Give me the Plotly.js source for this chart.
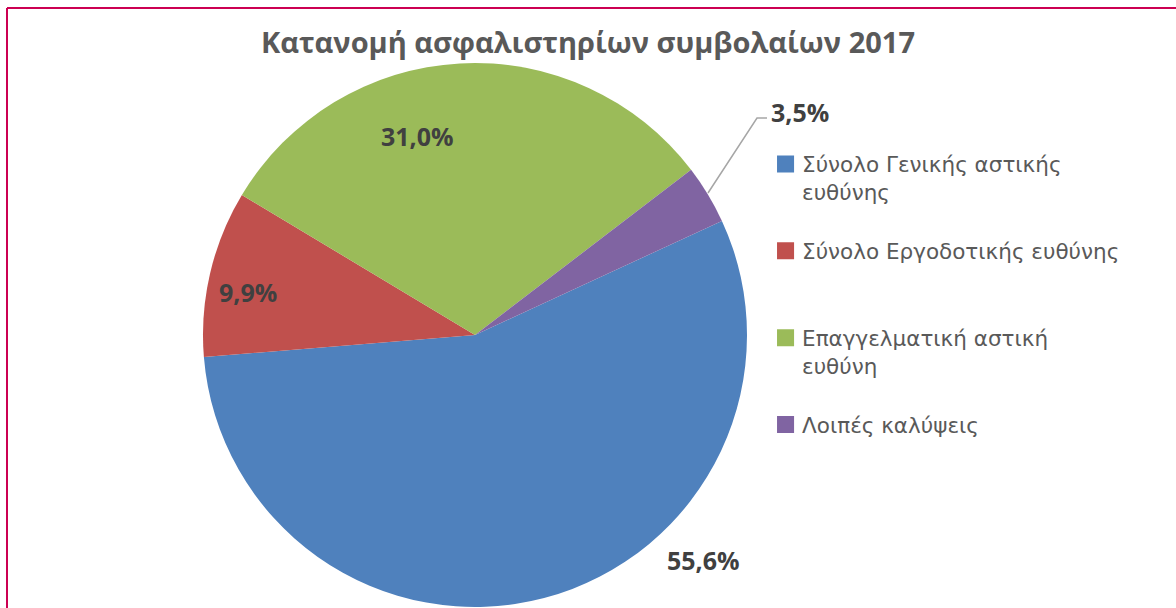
<!DOCTYPE html>
<html>
<head>
<meta charset="utf-8">
<script src="https://cdn.plot.ly/plotly-3.0.1.min.js"></script>
<style>html,body{margin:0;padding:0;background:#fff;}#chart{width:1176px;height:608px;}</style>
</head>
<body>
<div id="chart"></div>
<script>
// ---- data ----
var categories = [
  'Σύνολο Γενικής αστικής<br>ευθύνης',
  'Σύνολο Εργοδοτικής ευθύνης',
  'Επαγγελματική αστική<br>ευθύνη',
  'Λοιπές καλύψεις'
];
var shares = [55.6, 9.9, 31.0, 3.5];
var sliceColors = ['#4F81BD', '#C0504D', '#9BBB59', '#8064A2'];
var chartTitle = 'Κατανομή ασφαλιστηρίων συμβολαίων 2017';

// label placement (paper coords) for each slice's data label
var labelX = [0.5978, 0.2109, 0.3554, 0.6803];
var labelY = [0.0789, 0.5197, 0.7763, 0.8158];

function fmt(v) { return v.toFixed(1).replace('.', ',') + '%'; }

// pad every legend entry to three lines so the items get equal slots
var legendLabels = categories.map(function (c) {
  var n = c.split('<br>').length;
  var s = c;
  for (var i = n; i < 3; i++) s += '<br>&nbsp;';
  return s;
});

var W = 1176, H = 608;
var cx = 475, cy = 335, R = 272;

var trace = {
  type: 'pie',
  labels: legendLabels,
  values: shares,
  sort: false,
  direction: 'clockwise',
  rotation: 65.2,
  marker: { colors: sliceColors, line: { width: 0 } },
  textinfo: 'none',
  hoverinfo: 'label+percent',
  domain: { x: [(cx - R) / W, (cx + R) / W], y: [(H - cy - R) / H, (H - cy + R) / H] }
};

var annotations = shares.map(function (v, i) {
  return {
    xref: 'paper', yref: 'paper', x: labelX[i], y: labelY[i],
    xanchor: 'center', yanchor: 'middle', showarrow: false,
    text: '<b>' + fmt(v) + '</b>',
    font: { family: 'Open Sans, sans-serif', size: 25, color: '#404040' }
  };
});

function px(x) { return x / W; }
function py(y) { return 1 - y / H; }

var layout = {
  width: W, height: H,
  margin: { l: 0, r: 0, t: 0, b: 0 },
  paper_bgcolor: '#ffffff',
  title: {
    text: '<b>' + chartTitle + '</b>',
    x: 0.5, xanchor: 'center', y: 1 - 43 / H, yanchor: 'middle', yref: 'container',
    font: { family: 'Open Sans, sans-serif', size: 29, color: '#595959' }
  },
  showlegend: true,
  legend: {
    x: 0.648, xanchor: 'left', y: 0.764, yanchor: 'top',
    valign: 'top',
    bgcolor: 'rgba(0,0,0,0)',
    font: { family: 'DejaVu Sans, sans-serif', size: 21.5, color: '#595959' }
  },
  annotations: annotations,
  shapes: [
    { type: 'path', xref: 'paper', yref: 'paper',
      path: 'M' + px(708) + ',' + py(193) + ' L' + px(757) + ',' + py(118) + ' L' + px(767) + ',' + py(118),
      line: { color: '#A6A6A6', width: 1.5 } },
    { type: 'line', xref: 'paper', yref: 'paper', x0: px(7), x1: px(7), y0: -0.05, y1: py(8),
      line: { color: '#CC0052', width: 2 } },
    { type: 'line', xref: 'paper', yref: 'paper', x0: px(7), x1: 1.05, y0: py(8), y1: py(8),
      line: { color: '#CC0052', width: 2 } }
  ]
};

Plotly.newPlot('chart', [trace], layout, { displayModeBar: false, staticPlot: true }).then(function () {
  document.querySelectorAll('.legendpoints path').forEach(function (p) {
    p.setAttribute('transform', 'translate(23.5,0) scale(1.42)');
  });
});
</script>
</body>
</html>
